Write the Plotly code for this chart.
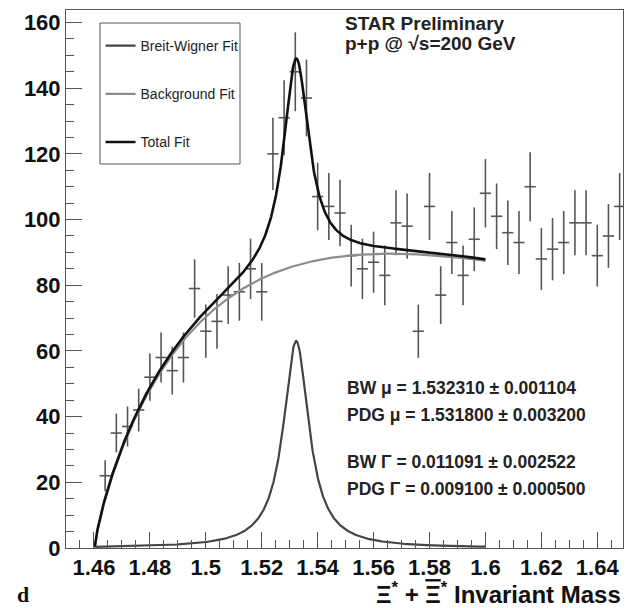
import numpy as np
import plotly.graph_objects as go

# ---------------- data ----------------
mass_bins = [1.464, 1.468, 1.472, 1.476, 1.480, 1.484, 1.488, 1.492, 1.496, 1.500,
             1.504, 1.508, 1.512, 1.516, 1.520, 1.524, 1.528, 1.532, 1.536, 1.540,
             1.544, 1.548, 1.552, 1.556, 1.560, 1.564, 1.568, 1.572, 1.576, 1.580,
             1.584, 1.588, 1.592, 1.596, 1.600, 1.604, 1.608, 1.612, 1.616, 1.620,
             1.624, 1.628, 1.632, 1.636, 1.640, 1.644, 1.648]
counts = [22, 35, 37, 42, 52, 58, 54, 58, 79, 66,
          69, 77, 78, 85, 78, 120, 131, 145, 137, 107,
          104, 102, 89, 85, 87, 83, 99, 98, 66, 104,
          77, 93, 83, 94, 108, 101, 96, 93, 110, 88,
          91, 93, 99, 99, 89, 95, 104]
count_errors = [4.7, 5.9, 6.1, 6.5, 7.2, 7.6, 7.3, 7.6, 8.9, 8.1,
                8.3, 8.8, 8.8, 9.2, 8.8, 11.0, 11.4, 12.0, 11.7, 10.3,
                10.2, 10.1, 9.4, 9.2, 9.3, 9.1, 9.9, 9.9, 8.1, 10.2,
                8.8, 9.6, 9.1, 9.7, 10.4, 10.0, 9.8, 9.6, 10.5, 9.4,
                9.5, 9.6, 9.9, 9.9, 9.4, 9.7, 10.2]
bin_half_width = 0.002

# fit parameters
bw_mu = 1.532310
bw_gamma = 0.011091
bw_peak = 63.0
bg_threshold = 1.4603
bg_norm = 1314.0
bg_pow = 0.795
bg_lin = -9.465
bg_quad = 9.09
fit_min, fit_max = 1.4603, 1.600

x_tickvals = [1.46, 1.48, 1.50, 1.52, 1.54, 1.56, 1.58, 1.60, 1.62, 1.64]
x_ticktext = ["1.46", "1.48", "1.5", "1.52", "1.54", "1.56", "1.58", "1.6", "1.62", "1.64"]
y_tickvals = [0, 20, 40, 60, 80, 100, 120, 140, 160]
y_ticktext = ["0", "20", "40", "60", "80", "100", "120", "140", "160"]

stats_lines = ["BW μ = 1.532310 ± 0.001104",
               "PDG μ = 1.531800 ± 0.003200",
               "BW Γ = 0.011091 ± 0.002522",
               "PDG Γ = 0.009100 ± 0.000500"]

# ---------------- fit curves ----------------
xf = np.linspace(fit_min, fit_max, 800)
hg = bw_gamma / 2.0
bw = bw_peak * hg**2 / ((xf - bw_mu) ** 2 + hg**2)
dx = np.clip(xf - bg_threshold, 0, None)
bg = bg_norm * dx**bg_pow * np.exp(bg_lin * dx + bg_quad * dx**2)
total = bw + bg

FONT = "Liberation Sans"
AX = "#555555"

fig = go.Figure()
fig.add_trace(go.Scatter(
    x=mass_bins, y=counts, mode="markers",
    marker=dict(size=1, color="rgba(0,0,0,0)"),
    error_y=dict(type="data", array=count_errors, width=0, thickness=1.6, color="#555555"),
    error_x=dict(type="constant", value=bin_half_width, width=0, thickness=1.6, color="#555555"),
    showlegend=False, hoverinfo="skip"))
fig.add_trace(go.Scatter(x=xf, y=bw, mode="lines", name="Breit-Wigner Fit",
                         line=dict(color="#444444", width=2.2), legendgroup="a"))
fig.add_trace(go.Scatter(x=xf, y=bg, mode="lines", name="Background Fit",
                         line=dict(color="#8c8c8c", width=2.2), legendgroup="b"))
fig.add_trace(go.Scatter(x=xf, y=total, mode="lines", name="Total Fit",
                         line=dict(color="#111111", width=2.6), legendgroup="c"))

tickfont = dict(family=FONT, size=22, color="#111111", weight="bold")
fig.update_xaxes(range=[1.45, 1.6492], tickvals=x_tickvals, ticktext=x_ticktext,
                 ticks="inside", ticklen=16, tickwidth=1, tickcolor=AX,
                 minor=dict(dtick=0.005, tick0=1.45, ticks="inside", ticklen=8, tickcolor=AX, tickwidth=1),
                 showline=True, linecolor=AX, linewidth=1, mirror=True,
                 showgrid=False, zeroline=False, tickfont=tickfont)
fig.update_yaxes(range=[0, 163.8], tickvals=y_tickvals, ticktext=y_ticktext,
                 ticks="inside", ticklen=16, tickwidth=1, tickcolor=AX,
                 minor=dict(dtick=5, tick0=0, ticks="inside", ticklen=8, tickcolor=AX, tickwidth=1),
                 showline=True, linecolor=AX, linewidth=1, mirror=True,
                 showgrid=False, zeroline=False, tickfont=tickfont)

ann = []
ann.append(dict(text="STAR Preliminary", x=0.497, y=0.974))
ann.append(dict(text="p+p @ √s=200 GeV", x=0.497, y=0.938))
for a in ann:
    a.update(xref="paper", yref="paper", xanchor="left", yanchor="middle", showarrow=False,
             font=dict(family=FONT, size=19, color="#222222", weight="bold"))
stats_y = [0.2967, 0.247, 0.160, 0.109]
for t, yy in zip(stats_lines, stats_y):
    ann.append(dict(text=t, x=0.501, y=yy, xref="paper", yref="paper", xanchor="left",
                    yanchor="middle", showarrow=False,
                    font=dict(family=FONT, size=17.5, color="#222222", weight="bold")))
ann.append(dict(text="Ξ<sup>*</sup> + <span style='text-decoration:overline'>Ξ</span><sup>*</sup> Invariant Mass",
                x=1.0, y=-0.0836, xref="paper", yref="paper", xanchor="right", yanchor="middle",
                showarrow=False, font=dict(family=FONT, size=24, color="#111111", weight="bold")))
ann.append(dict(text="d", x=-0.0916, y=-0.087, xref="paper", yref="paper", xanchor="left",
                yanchor="middle", showarrow=False,
                font=dict(family="Liberation Serif", size=22, color="#111111", weight="bold")))

# legend frame (ROOT-style box, taller than plotly's own)
legend_box = dict(type="rect", xref="paper", yref="paper",
                  x0=0.061, x1=0.3124, y0=0.7138, y1=0.9758,
                  line=dict(color=AX, width=1), fillcolor="white", layer="below")

fig.update_layout(
    width=642, height=608,
    margin=dict(l=66, r=19, t=10, b=60),
    paper_bgcolor="white", plot_bgcolor="white",
    font=dict(family=FONT),
    annotations=ann,
    shapes=[legend_box],
    legend=dict(x=0.062, y=0.9628, xanchor="left", yanchor="top",
                borderwidth=0, bgcolor="rgba(0,0,0,0)",
                font=dict(family=FONT, size=14, color="#222222"),
                tracegroupgap=27, traceorder="grouped"),
)

fig.write_html("out.html")
